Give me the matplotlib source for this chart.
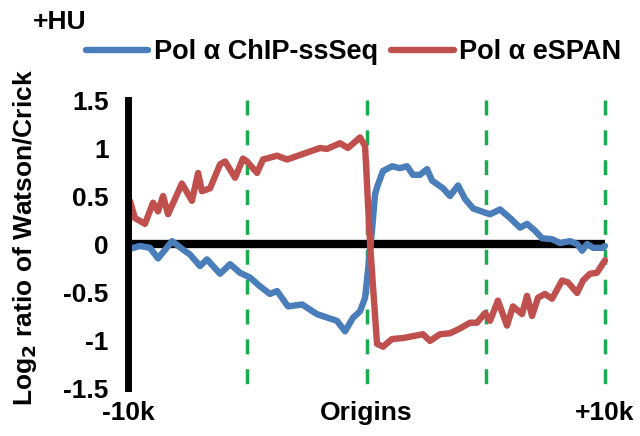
import numpy as np
import matplotlib
matplotlib.use('Agg')
import matplotlib.pyplot as plt

plt.rcParams['font.family'] = ['Liberation Sans', 'DejaVu Sans']
plt.rcParams['font.weight'] = 'bold'

# distance to origin (kb) and log2 Watson/Crick
chip_x = [-9.92, -9.50, -9.08, -8.74, -8.15, -7.74, -7.40, -6.98, -6.69, -6.14,
          -5.72, -5.30, -4.88, -4.47, -4.05, -3.75, -3.29, -2.70, -2.08, -1.61,
          -1.24, -0.90, -0.57, -0.27, -0.06, 0.06, 0.23, 0.36, 0.44, 0.69,
          1.07, 1.40, 1.70, 1.95, 2.24, 2.54, 2.75, 3.21, 3.50, 3.84,
          4.13, 4.47, 5.05, 5.18, 5.60, 6.02, 6.44, 6.73, 7.06, 7.36,
          7.78, 8.11, 8.53, 8.83, 9.04, 9.25, 9.50, 9.92, 10.0]
chip_y = [-0.05, -0.02, -0.04, -0.15, 0.03, -0.05, -0.11, -0.23, -0.16, -0.31,
          -0.21, -0.30, -0.35, -0.44, -0.52, -0.49, -0.65, -0.63, -0.73, -0.77,
          -0.80, -0.91, -0.77, -0.70, -0.56, -0.28, 0.14, 0.52, 0.59, 0.76,
          0.81, 0.79, 0.81, 0.72, 0.72, 0.78, 0.66, 0.58, 0.50, 0.61,
          0.47, 0.37, 0.32, 0.31, 0.36, 0.27, 0.17, 0.21, 0.14, 0.06,
          0.05, 0.01, 0.03, 0.00, -0.07, 0.00, -0.04, -0.04, -0.02]

espan_x = [-9.92, -9.71, -9.29, -8.95, -8.74, -8.53, -8.32, -7.74, -7.32, -7.06,
           -6.90, -6.56, -6.14, -5.93, -5.51, -5.18, -5.01, -4.59, -4.34, -3.75,
           -3.33, -2.87, -1.95, -1.66, -1.11, -0.78, -0.27, -0.06, 0.15, 0.44,
           0.69, 1.07, 1.53, 1.95, 2.37, 2.66, 3.08, 3.50, 3.92, 4.34,
           4.63, 4.97, 5.18, 5.51, 5.89, 6.14, 6.52, 6.73, 6.94, 7.19,
           7.48, 7.78, 8.20, 8.45, 8.83, 9.08, 9.37, 9.66, 10.0]
espan_y = [0.45, 0.27, 0.21, 0.43, 0.34, 0.50, 0.31, 0.63, 0.45, 0.74,
           0.55, 0.58, 0.83, 0.86, 0.69, 0.89, 0.86, 0.74, 0.88, 0.92,
           0.88, 0.92, 1.00, 0.99, 1.05, 1.00, 1.11, 1.02, 0.00, -1.04,
           -1.07, -0.99, -0.98, -0.96, -0.94, -1.01, -0.94, -0.93, -0.88, -0.82,
           -0.82, -0.72, -0.80, -0.59, -0.85, -0.65, -0.73, -0.54, -0.75, -0.56,
           -0.52, -0.57, -0.38, -0.40, -0.51, -0.38, -0.31, -0.30, -0.17]

guides = [-5, 0, 5, 10]
xtick_pos = [-10, 0, 10]
xtick_lab = ['-10k', 'Origins', '+10k']
ytick_pos = [-1.5, -1, -0.5, 0, 0.5, 1, 1.5]
ytick_lab = ['-1.5', '-1', '-0.5', '0', '0.5', '1', '1.5']

blue = '#4a7ebb'
red = '#c0504d'
green = '#1aab50'
fnt = 19

fig = plt.figure(figsize=(6.4, 4.36), dpi=100)
ax = fig.add_axes([128/640, 1 - 388/436, 477/640, 288/436])

for g in guides:
    ax.plot([g, g], [1.5, -1.5], color=green, lw=2.5, dashes=(4.3, 4.3), zorder=1, clip_on=False)
ax.plot([-10, 10], [0, 0], color='k', lw=6, zorder=2, clip_on=False, solid_capstyle='butt')

l1, = ax.plot(chip_x, chip_y, color=blue, lw=4.6, zorder=3, clip_on=False,
              solid_capstyle='round', solid_joinstyle='round')
l2, = ax.plot(espan_x, espan_y, color=red, lw=4.6, zorder=4, clip_on=False,
              solid_capstyle='round', solid_joinstyle='round')

ax.set_xlim(-10, 10)
ax.set_ylim(-1.5, 1.5)
for s in ['top', 'right', 'bottom']:
    ax.spines[s].set_visible(False)
ax.spines['left'].set_linewidth(5)
ax.spines['left'].set_zorder(5)

ax.set_xticks(xtick_pos)
ax.set_xticklabels(xtick_lab, fontsize=fnt, fontweight='bold')
ax.set_yticks(ytick_pos)
ax.set_yticklabels(ytick_lab, fontsize=fnt, fontweight='bold')
ax.tick_params(axis='x', length=0, pad=9)
ax.tick_params(axis='y', length=0, pad=14)

fig.text(25/640, 1 - 238/436, 'Log$_\\mathbf{2}$ ratio of Watson/Crick', rotation=90,
         ha='center', va='center', fontsize=fnt, fontweight='bold')
fig.text(33/640, 1 - 22/436, '+HU', ha='left', va='center', fontsize=fnt, fontweight='bold')

fig.legend([l1, l2], ['Pol α ChIP-ssSeq', 'Pol α eSPAN'], loc='center left',
           bbox_to_anchor=(86/640, 1 - 52/436), ncol=2, frameon=False,
           prop={'size': 19.5, 'weight': 'bold'}, handlelength=2.3,
           handletextpad=0.2, columnspacing=0.5, borderpad=0, borderaxespad=0)

fig.savefig('out.png', dpi=100)
